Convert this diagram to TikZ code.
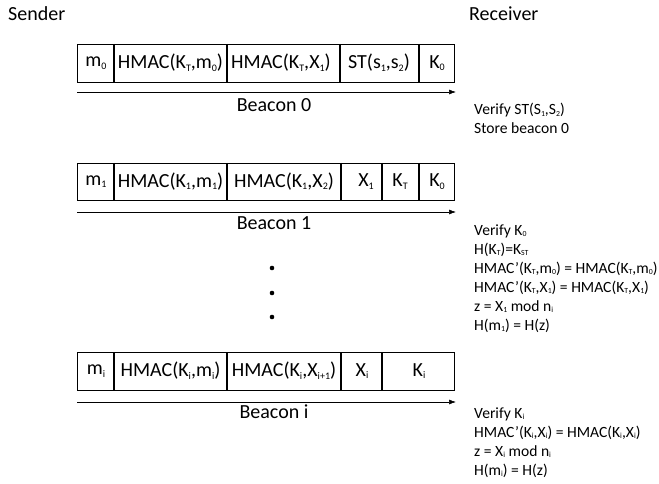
\documentclass[tikz,border=0pt]{standalone}
\usepackage{fontspec}
\setmainfont{Carlito}
\usepackage{graphicx}
\usetikzlibrary{arrows.meta}
% small lowered index, as in the slide
\newcommand{\lo}[1]{\raisebox{-0.25ex}{\scalebox{0.5}{#1}}}

\begin{document}
\begin{tikzpicture}[x=1pt, y=-1pt,
    cell/.style={font=\fontsize{20}{24}\selectfont, inner sep=0pt},
    note/.style={font=\fontsize{15.6}{19}\selectfont, align=left, anchor=base west, inner sep=0pt},
    frame/.style={line width=0.8pt},
    sep/.style={line width=1.8pt},
    flow/.style={-{Latex[length=7pt,width=5pt]}, line width=0.6pt}]
  \useasboundingbox (0, 0) rectangle (659, 484);

  \node[cell, anchor=west] (sender) at (8, 14) {Sender};
  \node[cell, anchor=west] (receiver) at (469, 14) {Receiver};

  % beacon 0
  \draw [frame] (77, 44) rectangle (454, 82);
  \draw [sep] (114, 44) -- (114, 82);
  \draw [sep] (227, 44) -- (227, 82);
  \draw [sep] (340, 44) -- (340, 82);
  \draw [sep] (419, 44) -- (419, 82);
  \node[cell] (m0) at (96, 63) {m\lo{0}};
  \node[cell] (h0a) at (170.5, 63) {HMAC(K\lo{T},m\lo{0})};
  \node[cell] (h0b) at (281, 63) {HMAC(K\lo{T},X\lo{1})};
  \node[cell] (st0) at (379, 63) {ST(s\lo{1},s\lo{2})};
  \node[cell] (k0) at (437, 63) {K\lo{0}};
  \coordinate (a0s) at (77, 92);
  \coordinate (a0e) at (456, 92);
  \draw [flow] (a0s) -- (a0e);
  \node[cell] (beacon0) at (274, 105) {Beacon 0};
  % base of a multi-line note is its last line
  \node[note] (check0) at (474, 134) {Verify ST(S\lo{1},S\lo{2})\\Store beacon 0};

  % beacon 1
  \draw [frame] (77, 163) rectangle (454, 200);
  \draw [sep] (114, 163) -- (114, 200);
  \draw [sep] (227, 163) -- (227, 200);
  \draw [sep] (341, 163) -- (341, 200);
  \draw [sep] (382, 163) -- (382, 200);
  \draw [sep] (419, 163) -- (419, 200);
  \node[cell] (m1) at (96, 181.5) {m\lo{1}};
  \node[cell] (h1a) at (170.5, 181.5) {HMAC(K\lo{1},m\lo{1})};
  \node[cell] (h1b) at (284, 181.5) {HMAC(K\lo{1},X\lo{2})};
  \node[cell] (x1) at (366, 181.5) {X\lo{1}};
  \node[cell] (kt1) at (400, 181.5) {K\lo{T}};
  \node[cell] (k01) at (437, 181.5) {K\lo{0}};
  \coordinate (a1s) at (77, 212);
  \coordinate (a1e) at (456, 212);
  \draw [flow] (a1s) -- (a1e);
  \node[cell] (beacon1) at (274, 223) {Beacon 1};
  \node[note] (check1) at (474, 330) {Verify K\lo{0}\\
    H(K\lo{T})=K\lo{ST}\\
    HMAC'(K\lo{T},m\lo{0}) = HMAC(K\lo{T},m\lo{0})\\
    HMAC'(K\lo{T},X\lo{1}) = HMAC(K\lo{T},X\lo{1})\\
    z = X\lo{1} mod n\lo{i}\\
    H(m\lo{1}) = H(z)};

  % skipped beacons
  \fill (272, 268) circle (2.3);
  \fill (272, 293) circle (2.3);
  \fill (272, 317) circle (2.3);

  % beacon i
  \draw [frame] (77, 352) rectangle (454, 390);
  \draw [sep] (114, 352) -- (114, 390);
  \draw [sep] (227, 352) -- (227, 390);
  \draw [sep] (341, 352) -- (341, 390);
  \draw [sep] (382, 352) -- (382, 390);
  \node[cell] (mi) at (96, 371) {m\lo{i}};
  \node[cell] (hia) at (170.5, 371) {HMAC(K\lo{i},m\lo{i})};
  \node[cell] (hib) at (284, 371) {HMAC(K\lo{i},X\lo{i+1})};
  \node[cell] (xi) at (362, 371) {X\lo{i}};
  \node[cell] (ki) at (419, 371) {K\lo{i}};
  \coordinate (ais) at (77, 402);
  \coordinate (aie) at (456, 402);
  \draw [flow] (ais) -- (aie);
  \node[cell] (beaconi) at (274, 412) {Beacon i};
  \node[note] (checki) at (474, 475) {Verify K\lo{i}\\
    HMAC'(K\lo{i},X\lo{i}) = HMAC(K\lo{i},X\lo{i})\\
    z = X\lo{i} mod n\lo{i}\\
    H(m\lo{i}) = H(z)};
\end{tikzpicture}
\end{document}
